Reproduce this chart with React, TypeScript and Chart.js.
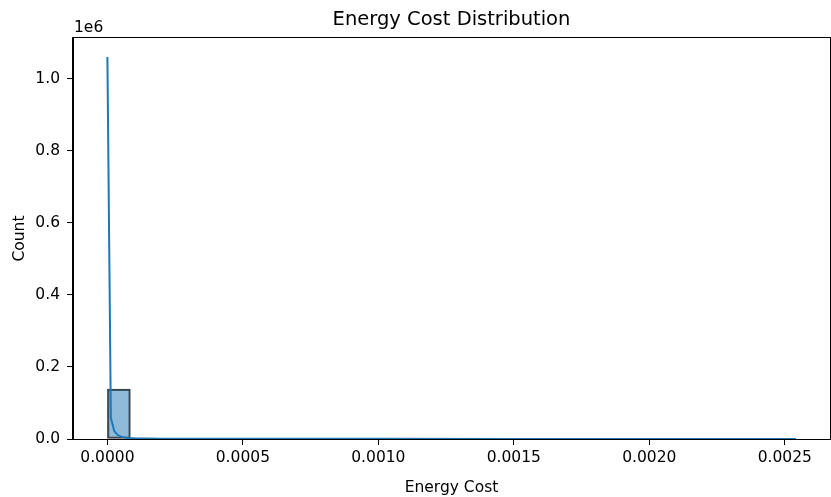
import React, { useEffect, useRef } from "react";
import { Chart, registerables } from "chart.js";

Chart.register(...registerables);

// Histogram: 30 bins from 0 to data max
const dataMin = 0;
const dataMax = 0.00254;
const binCounts = [
  138500, 420, 160, 90, 60, 45, 35, 30, 25, 20,
  18, 15, 12, 10, 9, 8, 7, 6, 5, 5,
  4, 4, 3, 3, 2, 2, 2, 1, 1, 1,
];

// KDE curve (scaled to counts)
const kdeX = [
  0, 0.0000127, 0.0000254, 0.0000381, 0.0000508, 0.0000635, 0.0000762, 0.0001,
  0.00015, 0.0002, 0.0003, 0.0005, 0.0008, 0.001, 0.0015, 0.002, 0.00254,
];
const kdeY = [
  1060000, 58000, 22000, 11000, 6500, 4200, 3000, 2000,
  1300, 950, 700, 500, 400, 350, 300, 280, 260,
];

const xTicks = [0, 0.0005, 0.001, 0.0015, 0.002, 0.0025];
const yTicks = [0, 200000, 400000, 600000, 800000, 1000000];

const xMin = -0.000127;
const xMax = 0.002667;
const yMin = 0;
const yMax = 1113000;

const FONT = "'DejaVu Sans', sans-serif";

export default function App() {
  const ref = useRef<HTMLCanvasElement | null>(null);

  useEffect(() => {
    if (!ref.current) return;
    const binW = (dataMax - dataMin) / binCounts.length;
    const barData = binCounts.map((c, i) => ({ x: dataMin + binW * (i + 0.5), y: c }));
    const lineData = kdeX.map((x, i) => ({ x, y: kdeY[i] }));

    const textPlugin = {
      id: "texts",
      afterDraw(chart: any) {
        const { ctx, chartArea } = chart;
        const { left, right, top, bottom } = chartArea;
        ctx.save();
        ctx.strokeStyle = "#000";
        ctx.lineWidth = 1;
        ctx.strokeRect(Math.round(left) - 0.5, Math.round(top) - 0.5, Math.round(right - left) + 1, Math.round(bottom - top) + 1);
        ctx.fillStyle = "#000";
        ctx.textAlign = "center";
        ctx.textBaseline = "alphabetic";
        ctx.font = `19.5px ${FONT}`;
        ctx.fillText("Energy Cost Distribution", (left + right) / 2, 25);
        ctx.font = `15.5px ${FONT}`;
        ctx.fillText("Energy Cost", (left + right) / 2, 492);
        ctx.textAlign = "left";
        ctx.fillText("1e6", left + 1, 32);
        ctx.translate(24, (top + bottom) / 2);
        ctx.rotate(-Math.PI / 2);
        ctx.textAlign = "center";
        ctx.fillText("Count", 0, 0);
        ctx.restore();
      },
    };

    const chart = new Chart(ref.current, {
      type: "bar",
      data: {
        datasets: [
          {
            type: "line",
            data: lineData,
            borderColor: "#1f77b4",
            borderWidth: 2,
            pointRadius: 0,
            fill: false,
            tension: 0,
            order: 0,
          } as any,
          {
            type: "bar",
            data: barData,
            backgroundColor: "rgba(31,119,180,0.5)",
            borderColor: "rgba(30,30,30,0.85)",
            borderWidth: 1.5,
            borderSkipped: false,
            barPercentage: 1,
            categoryPercentage: 1,
            order: 1,
          } as any,
        ],
      },
      options: {
        animation: false,
        responsive: false,
        maintainAspectRatio: false,
        layout: { padding: { top: 38, right: 1, left: 0, bottom: 0 } },
        plugins: { legend: { display: false }, tooltip: { enabled: false }, title: { display: false } },
        scales: {
          x: {
            type: "linear",
            offset: false,
            min: xMin,
            max: xMax,
            afterBuildTicks: (s: any) => {
              s.ticks = xTicks.map((v) => ({ value: v }));
            },
            afterFit: (s: any) => {
              s.height = 58;
            },
            ticks: {
              autoSkip: false,
              maxRotation: 0,
              padding: 4,
              color: "#000",
              font: { family: FONT, size: 15.5 },
              callback: (v: any) => Number(v).toFixed(4),
            },
            grid: { display: true, offset: false, drawOnChartArea: false, drawTicks: true, tickLength: 6, tickColor: "#000" },
            border: { display: true, color: "#000", width: 1 },
          },
          y: {
            type: "linear",
            min: yMin,
            max: yMax,
            afterBuildTicks: (s: any) => {
              s.ticks = yTicks.map((v) => ({ value: v }));
            },
            afterFit: (s: any) => {
              s.width = 73;
            },
            ticks: {
              autoSkip: false,
              padding: 7,
              color: "#000",
              font: { family: FONT, size: 15.5 },
              callback: (v: any) => (Number(v) / 1e6).toFixed(1),
            },
            grid: { display: true, drawOnChartArea: false, drawTicks: true, tickLength: 6, tickColor: "#000" },
            border: { display: true, color: "#000", width: 1 },
          },
        },
      },
      plugins: [textPlugin],
    } as any);
    return () => chart.destroy();
  }, []);

  return (
    <div style={{ position: "fixed", left: 0, top: 0, width: 831, height: 497, background: "#fff" }}>
      <canvas ref={ref} width={831} height={497} style={{ width: 831, height: 497 }} />
    </div>
  );
}
